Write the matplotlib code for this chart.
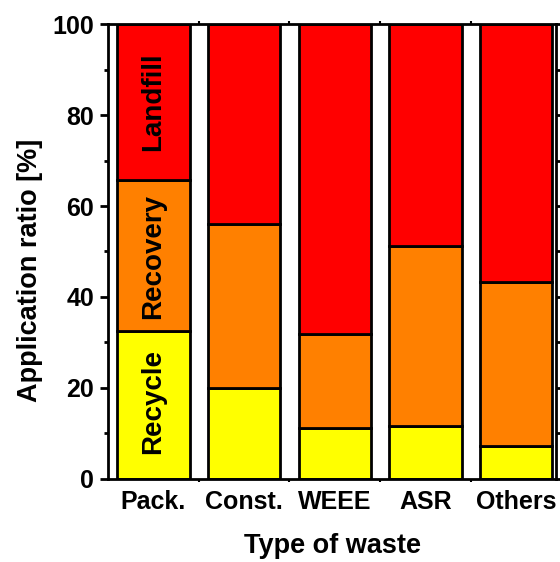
import numpy as np
import matplotlib
matplotlib.use("Agg")
import matplotlib.pyplot as plt
from matplotlib.ticker import MultipleLocator, FixedLocator

plt.rcParams['font.family'] = ['Liberation Sans', 'DejaVu Sans']
plt.rcParams['font.weight'] = 'bold'

# data (percent)
categories = ['Pack.', 'Const.', 'WEEE', 'ASR', 'Others']
recycle = [32.5, 20.0, 11.2, 11.6, 7.2]
recovery = [33.3, 36.0, 20.6, 39.6, 36.2]
landfill = [34.2, 44.0, 68.2, 48.8, 56.6]
layer_names = ['Recycle', 'Recovery', 'Landfill']
layer_colors = ['#ffff00', '#ff8000', '#ff0000']

fig = plt.figure(figsize=(5.6, 5.62), dpi=100)
ax = fig.add_axes([0.193, 0.148, 0.800, 0.809])

x = np.arange(len(categories))
bottom = np.zeros(len(categories))
for vals, col in zip([recycle, recovery, landfill], layer_colors):
    ax.bar(x, vals, 0.8, bottom=bottom, color=col, edgecolor='black',
           linewidth=2, zorder=2)
    bottom += np.array(vals)

# layer labels written vertically inside the first bar
label_pos = [17.1, 49.0, 83.0]
for name, ypos in zip(layer_names, label_pos):
    ax.text(x[0], ypos, name, rotation=90, ha='center', va='center',
            fontsize=20, fontweight='bold')

ax.set_xlim(-0.5, 4.44)
ax.set_ylim(0, 100)
ax.set_xticks(x)
ax.set_xticklabels(categories)
ax.xaxis.set_minor_locator(FixedLocator(x[:-1] + 0.5))
ax.yaxis.set_major_locator(MultipleLocator(20))
ax.yaxis.set_minor_locator(MultipleLocator(10))

for s in ax.spines.values():
    s.set_linewidth(2)
    s.set_zorder(3)

ax.tick_params(axis='y', which='major', direction='out', length=6, width=2,
               labelsize=18, right=True, pad=4)
ax.tick_params(axis='y', which='minor', direction='out', length=3, width=2,
               right=True)
ax.tick_params(axis='x', which='major', direction='in', length=6, width=2,
               labelsize=18, top=True, pad=8)
ax.tick_params(axis='x', which='minor', direction='out', length=2, width=1.5,
               top=True)

ax.set_xlabel('Type of waste', fontsize=19.5, fontweight='bold', labelpad=14)
ax.set_ylabel('Application ratio [%]', fontsize=19.5, fontweight='bold')
ax.yaxis.set_label_coords(-0.145, 0.459)

fig.savefig('out.png', dpi=100)
